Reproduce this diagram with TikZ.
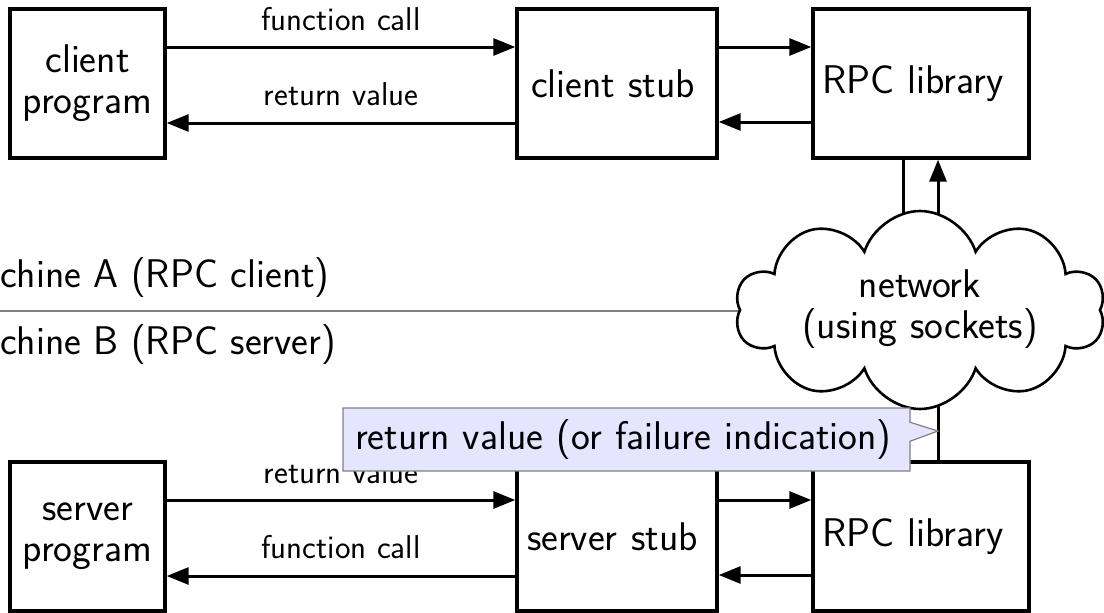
\documentclass[tikz,border=0pt]{standalone}
\usepackage{fontspec}
\usetikzlibrary{shapes.symbols,shapes.callouts,arrows.meta}
\pgfdeclarelayer{bg}
\pgfsetlayers{bg,main}
\newcommand\bigtxt{\sffamily\fontsize{40}{41}\selectfont}
\newcommand\lbltxt{\sffamily\fontsize{33}{38}\selectfont}
\tikzset{
  box/.style={draw, line width=3.4pt, inner sep=0pt, minimum height=149pt, font=\bigtxt, align=center},
  arr/.style={line width=3pt, -{Triangle[length=22pt,width=17pt]}},
  plain/.style={line width=3pt},
  lbl/.style={font=\lbltxt, inner sep=0pt},
}
\begin{document}
\begin{tikzpicture}[x=1pt,y=-1pt]
\useasboundingbox (0,0) rectangle (1104,613);
% top row
\node[box, minimum width=155pt] (cp) at (87.5,83.5) {client\\program};
\node[box, inner xsep=14pt, text width=172pt, align=left] (cs) at (617,83.5) {client stub};
\node[box, inner xsep=9pt, text width=198pt, align=left] (rl) at (921,83.5) {RPC library};
% bottom row
\node[box, minimum width=155pt] (sp) at (87.5,536.5) {server\\program};
\node[box, inner xsep=10pt, text width=180pt, align=left] (ss) at (617,536.5) {server stub};
\node[box, inner xsep=9pt, text width=198pt, align=left] (sl) at (921,536.5) {RPC library};
% arrows top
\draw[arr] ([yshift=36.5pt]cp.east) -- ([yshift=36.5pt]cs.west) node[lbl, midway, above=15pt] {function call};
\draw[arr] ([yshift=-39.5pt]cs.west) -- ([yshift=-39.5pt]cp.east) node[lbl, midway, above=16pt] {return value};
\draw[arr] ([yshift=36.5pt]cs.east) -- ([yshift=36.5pt]rl.west);
\draw[arr] ([yshift=-38.5pt]rl.west) -- ([yshift=-38.5pt]cs.east);
% arrows bottom
\draw[arr] ([yshift=36.5pt]sp.east) -- ([yshift=36.5pt]ss.west) node[lbl, midway, above=15pt] {return value};
\draw[arr] ([yshift=-39.5pt]ss.west) -- ([yshift=-39.5pt]sp.east) node[lbl, midway, above=16pt] {function call};
\draw[arr] ([yshift=36.5pt]ss.east) -- ([yshift=36.5pt]sl.west);
\draw[arr] ([yshift=-38.5pt]sl.west) -- ([yshift=-38.5pt]ss.east);
% machine labels
\node[anchor=base west, font=\bigtxt, inner sep=0pt] (ma) at (0,287) {chine A (RPC client)};
\node[anchor=base west, font=\bigtxt, inner sep=0pt] (mb) at (0,354) {chine B (RPC server)};
\coordinate (lft) at (0,311);
% cloud
\node[cloud, draw, fill=white, line width=2.6pt, cloud puffs=10, cloud puff arc=145, cloud ignores aspect, minimum width=370pt, minimum height=198pt] (net) at (920,310) {};
\node[font=\bigtxt, align=center, inner sep=0pt] (nettext) at (920,309.5) {network\\(using sockets)};
\coordinate (tip) at (938,431);
\begin{pgfonlayer}{bg}
\draw[gray, line width=1.5pt] (lft) -- (lft -| net.center);
\draw[plain] ([xshift=-18pt]rl.south) -- ([xshift=-18pt]rl.south |- net.center);
\draw[arr] ([xshift=17pt]rl.south |- net.center) -- ([xshift=17pt]rl.south);
\draw[plain] (net.center -| tip) -- ([xshift=17pt]sl.north);
\end{pgfonlayer}
% callout
\node[rectangle callout, callout absolute pointer={(tip)}, callout pointer width=19pt, draw=gray, fill=blue!10, line width=1.2pt, font=\bigtxt, text width=543pt, inner xsep=12pt, inner ysep=0pt, align=left, minimum height=63pt] (note) at (626.5,439.5) {return value (or failure indication)};
\end{tikzpicture}
\end{document}
